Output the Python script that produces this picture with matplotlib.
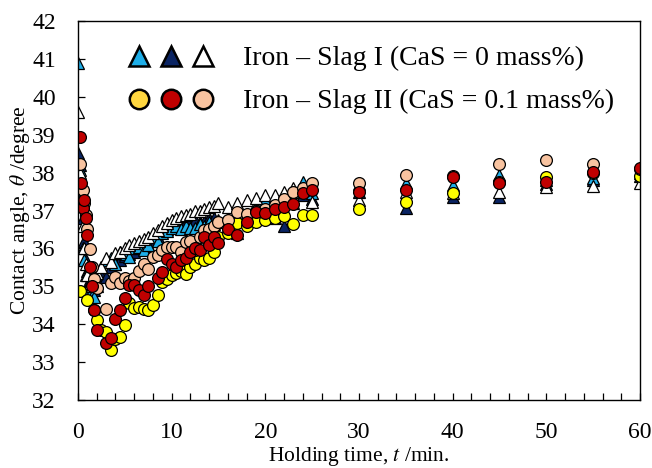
import numpy as np
import matplotlib
matplotlib.use("Agg")
import matplotlib.pyplot as plt
from matplotlib.lines import Line2D
from matplotlib.legend_handler import HandlerTuple
from matplotlib.ticker import MultipleLocator

plt.rcParams['font.family'] = ['Liberation Serif', 'DejaVu Serif']
plt.rcParams['mathtext.fontset'] = 'stix'

nan = np.nan

# holding time (min)
t = [0, 0.17, 0.33, 0.5, 0.67, 0.83, 1.0, 1.25, 1.5, 1.75, 2.0, 2.5, 3.0, 3.5,
     4.0, 4.5, 5.0, 5.5, 6.0, 6.5, 7.0, 7.5, 8.0, 8.5, 9.0, 9.5, 10, 10.5, 11,
     11.5, 12, 12.5, 13, 13.5, 14, 14.5, 15, 16, 17, 18, 19, 20, 21, 22, 23,
     24, 25, 30, 35, 40, 45, 50, 55, 60]

# Iron - Slag I (CaS = 0 mass%)
slag1_a = [40.9, 38.07, 37.2, 36.0, 35.7, 35.3, 34.95, 34.8, 34.75, 34.73, 35.1,
           35.5, 35.69, 35.74, 35.6, 35.91, 35.85, 35.78, 36.0, 36.05, 35.95,
           36.09, 36.3, 36.2, 36.4, 36.45, 36.55, 36.6, 36.5, 36.6, 36.55, 36.53,
           36.65, 36.6, 36.7, 36.65, 36.7, 36.55, 36.8, 36.9, 37.1, 37.28, 37.3,
           37.4, 37.5, 37.76, 37.45, 37.7, 37.72, 37.67, 37.94, 37.8, 37.85, 38.0]
slag1_b = [38.52, 38.2, 37.5, 36.8, 36.2, 35.7, 35.4, 35.2, 35.0, 34.9, 35.0,
           35.3, 35.25, 35.5, 35.6, 35.7, 35.8, 35.85, 35.9, 36.0, 36.05, 36.1,
           36.2, 36.3, 36.54, 36.5, 36.6, 36.6, 36.65, 36.7, 36.7, 36.75, 36.7,
           36.7, 36.8, 36.8, 36.75, 36.8, 36.4, 36.9, 37.0, 36.95, 36.79, 36.59,
           37.2, 37.4, 37.3, 37.5, 37.06, 37.36, 37.36, 37.7, 37.8, 37.9]
slag1_c = [39.6, 38.0, 37.3, 36.6, 36.0, 35.6, 35.3, 35.1, 35.0, 35.2, 35.35,
           35.5, 35.74, 35.65, 35.87, 35.9, 36.0, 36.1, 36.15, 36.2, 36.25, 36.3,
           36.4, 36.49, 36.6, 36.66, 36.75, 36.79, 36.85, 36.88, 36.9, 37.0, 37.0,
           37.05, 37.1, 37.12, 37.19, 37.1, 37.19, 37.28, 37.32, 37.41, 37.41,
           37.5, 37.59, 37.55, 37.23, 37.28, 37.5, 37.45, 37.49, 37.62, 37.64, 37.72]

# Iron - Slag II (CaS = 0.1 mass%)
slag2_a = [nan, 34.87, nan, nan, nan, nan, 34.64, nan, nan, 34.37, 34.1, 33.85,
           33.8, 33.32, 33.6, 33.67, 33.98, 34.56, 34.43, 34.45, 34.4, 34.37, 34.5,
           34.77, 35.12, 35.2, 35.3, 35.35, 35.4, 35.32, 35.5, 35.6, 35.74, 35.7,
           35.74, 35.9, 36.3, 36.4, 36.67, 36.6, 36.7, 36.75, 36.8, 36.85, 36.64,
           36.88, 36.88, 37.04, 37.22, 37.46, 37.75, 37.88, 38.0, 37.91]
slag2_b = [nan, 38.95, 37.72, 37.06, 37.28, 36.8, 36.35, 35.5, 35.0, 34.37, 33.85,
           nan, 33.51, 33.63, 34.13, 34.37, 34.68, 35.03, 35.03, 34.9, 34.77, 35.0,
           nan, 35.21, 35.39, 35.71, 35.6, 35.52, 35.69, 35.74, 35.9, 36.0, 35.96,
           36.3, 36.09, 36.31, 36.15, 36.5, 36.35, 36.7, 36.95, 36.93, 37.03, 37.1,
           37.16, 37.47, 37.54, 37.49, 37.54, 37.88, 37.73, 37.75, 38.01, 38.12]
slag2_c = [nan, 38.24, nan, 37.54, 37.2, 36.88, 36.5, 35.98, 35.5, 35.2, 34.95,
           nan, 34.39, 35.08, 35.25, 35.1, 35.21, 35.15, 35.21, 35.4, 35.6, 35.47,
           35.78, 35.83, 35.96, 36.05, 36.05, 36.05, 35.91, 36.18, 36.2, 35.96, 36.3,
           36.49, 36.5, 36.6, 36.7, 36.75, 36.97, 36.9, 37.0, 37.05, 37.14, 37.3,
           37.5, 37.6, 37.72, 37.73, 37.94, 37.9, 38.23, 38.33, 38.22, 38.1]

c_lblue = '#1EAEE8'
c_navy = '#0A2463'
c_white = '#FFFFFF'
c_yellow = '#FFFF00'
c_red = '#C00000'
c_peach = '#F8C3A0'

fig = plt.figure(figsize=(6.52, 4.68), dpi=100)
ax = fig.add_axes([0.1196, 0.1453, 0.862, 0.8097])

tri = dict(marker='^', ms=9, mec='black', mew=0.9, ls='none')
cir = dict(marker='o', ms=8.5, mec='black', mew=0.9, ls='none')

ax.plot(t, slag1_b, mfc=c_navy, **tri)
ax.plot(t, slag1_a, mfc=c_lblue, **tri)
ax.plot(t, slag1_c, mfc=c_white, **tri)
ax.plot(t, slag2_a, mfc=c_yellow, **cir)
ax.plot(t, slag2_c, mfc=c_peach, **cir)
ax.plot(t, slag2_b, mfc=c_red, **cir)

ax.set_xlim(0, 60)
ax.set_ylim(32, 42)
ax.xaxis.set_major_locator(MultipleLocator(10))
ax.xaxis.set_minor_locator(MultipleLocator(2))
ax.yaxis.set_major_locator(MultipleLocator(1))
ax.tick_params(which='both', direction='in', length=5, width=0.9,
               labelsize=17, top=False, right=False)
ax.tick_params(axis='x', pad=16)
ax.tick_params(axis='y', pad=16)
for s in ax.spines.values():
    s.set_linewidth(1.0)

ax.set_xlabel(r'Holding time, $t$ /min.', fontsize=15.5, labelpad=1)
ax.set_ylabel(r'Contact angle, $\theta$ /degree', fontsize=15.5, labelpad=0)

lg = dict(ls='none', ms=14, mec='black', mew=1.8)
h1 = (Line2D([], [], marker='^', mfc=c_lblue, **lg),
      Line2D([], [], marker='^', mfc=c_navy, **lg),
      Line2D([], [], marker='^', mfc=c_white, **lg))
h2 = (Line2D([], [], marker='o', mfc='#FFD740', **lg),
      Line2D([], [], marker='o', mfc=c_red, **lg),
      Line2D([], [], marker='o', mfc=c_peach, **lg))
ax.legend([h1, h2],
          ['Iron – Slag I (CaS = 0 mass%)', 'Iron – Slag II (CaS = 0.1 mass%)'],
          handler_map={tuple: HandlerTuple(ndivide=None, pad=0.43)},
          handlelength=3.02, handletextpad=1.08, labelspacing=0.63,
          borderpad=0, borderaxespad=0,
          frameon=False, fontsize=20, loc='upper left',
          bbox_to_anchor=(129 / 652, 1 - 46 / 468),
          bbox_transform=fig.transFigure)

fig.savefig('out.png', dpi=100)
